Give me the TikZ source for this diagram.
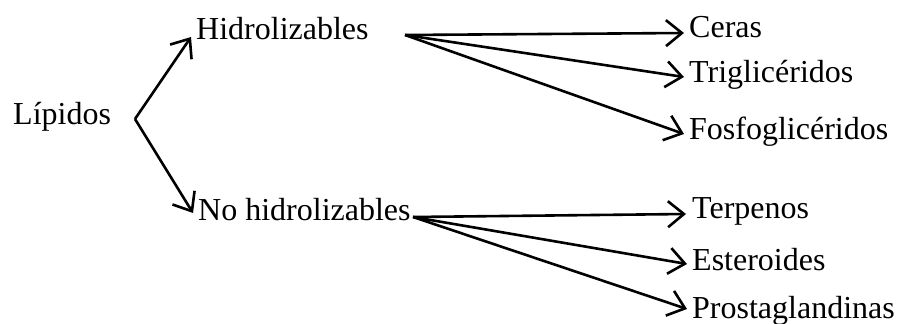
\documentclass[tikz,border=0pt]{standalone}
\usepackage{fontspec}
\setmainfont{Liberation Serif}
\usetikzlibrary{arrows.meta}
\begin{document}
\begin{tikzpicture}[x=1pt,y=-1pt,
  lbl/.style={anchor=base west,inner sep=0pt,font=\fontsize{32}{38}\selectfont},
  arr/.style={line width=2.6pt,-{Straight Barb[length=16pt,width=26pt]}}]
\useasboundingbox (0,0) rectangle (900,324);
\node[lbl] (lip) at (13,124) {Lípidos};
\node[lbl] (hid) at (196,39) {Hidrolizables};
\node[lbl] (nohid) at (198,220) {No hidrolizables};
\node[lbl] (ceras) at (689,37) {Ceras};
\node[lbl] (trig) at (689,82) {Triglicéridos};
\node[lbl] (fosf) at (689,139) {Fosfoglicéridos};
\node[lbl] (terp) at (692,218) {Terpenos};
\node[lbl] (este) at (692,270) {Esteroides};
\node[lbl] (pros) at (692,318) {Prostaglandinas};
\coordinate (b0) at (135,119);
\coordinate (bh) at (405,35);
\coordinate (bn) at (413,217);
\coordinate (thid) at (191,37);
\coordinate (tnoh) at (193,213);
\coordinate (tcer) at (684,33);
\coordinate (ttri) at (684,77);
\coordinate (tfos) at (684,134);
\coordinate (tter) at (686,214);
\coordinate (test) at (687,264);
\coordinate (tpro) at (687,309);
\draw[arr] (b0) -- (thid);
\draw[arr] (b0) -- (tnoh);
\draw[arr] (bh) -- (tcer);
\draw[arr] (bh) -- (ttri);
\draw[arr] (bh) -- (tfos);
\draw[arr] (bn) -- (tter);
\draw[arr] (bn) -- (test);
\draw[arr] (bn) -- (tpro);
\end{tikzpicture}
\end{document}
